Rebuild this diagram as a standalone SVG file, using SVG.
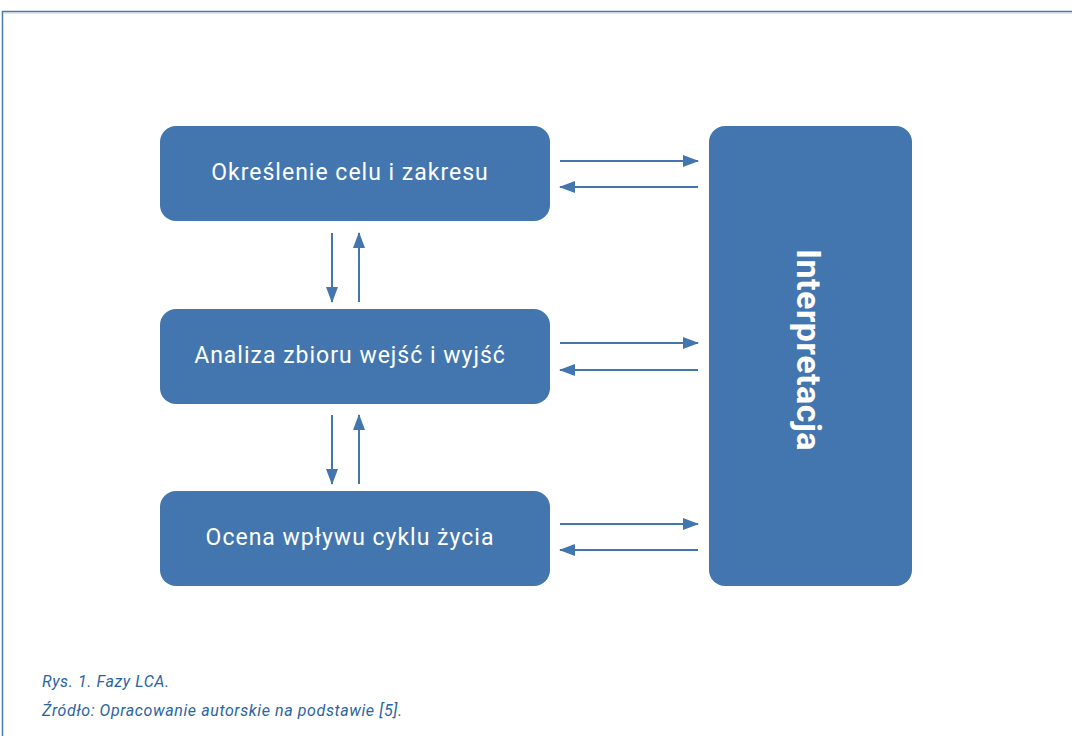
<svg xmlns="http://www.w3.org/2000/svg" width="1072" height="736" viewBox="0 0 1072 736">
<defs>
<style>
.box{fill:#4376af;}
.lbl{font-family:Roboto,"Noto Sans",sans-serif;font-size:23px;letter-spacing:1px;fill:#ffffff;text-anchor:middle;}
.big{font-family:Roboto,"Noto Sans",sans-serif;font-size:34px;font-weight:bold;letter-spacing:0.5px;fill:#ffffff;text-anchor:middle;}
.cap{font-family:Roboto,"Noto Sans",sans-serif;font-size:16px;letter-spacing:0.6px;font-style:italic;fill:#2a64a3;}
.ln{stroke:#4376af;stroke-width:2;fill:none;}
</style>
<marker id="ah" viewBox="0 0 16 12" refX="15" refY="6" markerWidth="16" markerHeight="12" markerUnits="userSpaceOnUse" orient="auto">
<path d="M0,0 L16,6 L0,12 Z" fill="#4376af"/>
</marker>
</defs>
<rect width="1072" height="736" fill="#ffffff"/>
<g id="frame">
<path d="M2.5,736 V11.5 H1072" stroke="#4a78aa" stroke-width="1.5" fill="none"/>
<line x1="3" y1="13" x2="1072" y2="13" stroke="#b9cde3" stroke-width="1"/>
</g>
<g id="n1"><rect class="box" x="160" y="126" width="390" height="95" rx="16"/><text class="lbl" x="350" y="180">Określenie celu i zakresu</text></g>
<g id="n2"><rect class="box" x="160" y="309" width="390" height="95" rx="16"/><text class="lbl" x="350" y="363">Analiza zbioru wejść i wyjść</text></g>
<g id="n3"><rect class="box" x="160" y="491" width="390" height="95" rx="16"/><text class="lbl" x="350" y="545">Ocena wpływu cyklu życia</text></g>
<g id="n4"><rect class="box" x="709" y="126" width="203" height="460" rx="16"/><text class="big" transform="translate(797,350) rotate(90)">Interpretacja</text></g>
<g id="connectors">
<line class="ln" x1="560" y1="161" x2="698" y2="161" marker-end="url(#ah)"/>
<line class="ln" x1="698" y1="187" x2="560" y2="187" marker-end="url(#ah)"/>
<line class="ln" x1="560" y1="343" x2="698" y2="343" marker-end="url(#ah)"/>
<line class="ln" x1="698" y1="370" x2="560" y2="370" marker-end="url(#ah)"/>
<line class="ln" x1="560" y1="524" x2="698" y2="524" marker-end="url(#ah)"/>
<line class="ln" x1="698" y1="550" x2="560" y2="550" marker-end="url(#ah)"/>
<line class="ln" x1="332" y1="233" x2="332" y2="302" marker-end="url(#ah)"/>
<line class="ln" x1="359" y1="302" x2="359" y2="233" marker-end="url(#ah)"/>
<line class="ln" x1="332" y1="415" x2="332" y2="484" marker-end="url(#ah)"/>
<line class="ln" x1="359" y1="484" x2="359" y2="415" marker-end="url(#ah)"/>
</g>
<g id="caption">
<text class="cap" x="42" y="687">Rys. 1. Fazy LCA.</text>
<text class="cap" x="42" y="716">Źródło: Opracowanie autorskie na podstawie [5].</text>
</g>
</svg>
